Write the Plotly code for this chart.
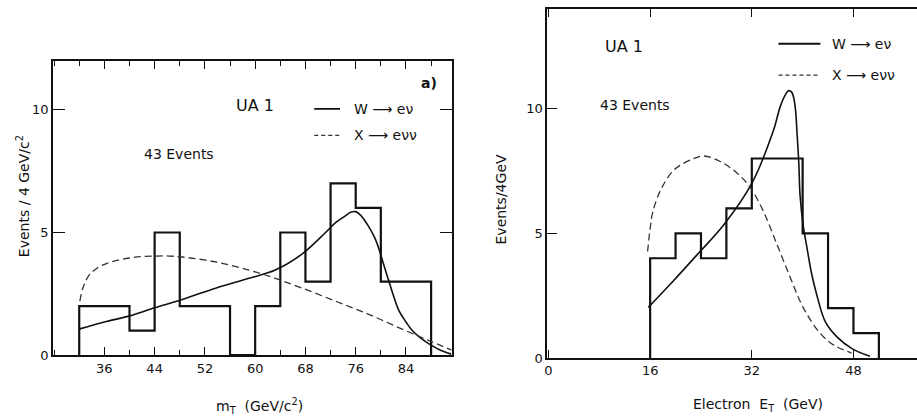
import plotly.graph_objects as go

# ---- Left panel: transverse mass ----
mt_edges = [32, 40, 44, 48, 56, 60, 64, 68, 72, 76, 80, 88]
mt_counts = [2, 1, 5, 2, 0, 2, 5, 3, 7, 6, 3]

mt_w_x = [32.1, 36, 40, 44, 48.4, 53.7, 59, 63.2, 67.5, 71.2, 72.8, 74.2, 75.2, 76.0, 76.8, 78, 79.0, 79.7, 80.5, 81.3, 82.1, 82.9, 84.0, 85, 86.3, 87.6, 89.5, 91.2]
mt_w_y = [1.07, 1.35, 1.6, 1.93, 2.27, 2.73, 3.13, 3.47, 4.13, 5.0, 5.4, 5.65, 5.83, 5.85, 5.7, 5.27, 4.8, 4.33, 3.65, 3.0, 2.35, 1.8, 1.35, 1.0, 0.7, 0.47, 0.2, 0.04]
mt_x_x = [32.1, 32.6, 33.6, 34.6, 35.7, 37.8, 40, 42, 44.2, 46.3, 48.4, 53.7, 59, 63.2, 67.5, 72.8, 78, 83.3, 87.6, 91.3]
mt_x_y = [2.2, 2.75, 3.27, 3.5, 3.67, 3.85, 3.96, 4.02, 4.04, 4.04, 4.0, 3.8, 3.47, 3.13, 2.73, 2.2, 1.67, 1.07, 0.6, 0.2]

# ---- Right panel: electron ET ----
et_edges = [16, 20, 24, 28, 32, 36, 40, 44, 48, 52]
et_counts = [4, 5, 4, 6, 8, 8, 5, 2, 1]

et_w_x = [15.7, 19.6, 23.6, 27.5, 32, 35.4, 36.5, 37.3, 37.8, 38.3, 38.6, 38.9, 39.1, 39.4, 39.6, 40.1, 40.7, 41.4, 42.2, 43.6, 45.4, 47.7, 50.6]
et_w_y = [2.03, 3.08, 4.2, 5.31, 7.0, 9.12, 10.1, 10.56, 10.72, 10.65, 10.43, 9.9, 9.1, 7.8, 6.5, 5.3, 4.4, 3.4, 2.56, 1.44, 0.85, 0.39, 0.07]
et_x_x = [15.6, 16.0, 16.4, 17.7, 19.8, 22.9, 24.5, 27.1, 29.7, 31.8, 33.9, 36.0, 38.1, 40.2, 42.8, 44.9, 47.7]
et_x_y = [4.27, 5.2, 5.84, 6.76, 7.55, 8.0, 8.1, 7.87, 7.41, 6.82, 5.84, 4.53, 3.2, 1.97, 0.98, 0.52, 0.2]

left_xticks = [36, 44, 52, 60, 68, 76, 84]
right_xticks = [0, 16, 32, 48]
yticks = [0, 5, 10]


def hist_xy(edges, counts):
    xs = [edges[0]] + list(edges)
    ys = [0] + list(counts) + [0]
    return xs, ys


fig = go.Figure()
INK = "#111111"
FONT = "DejaVu Sans"

hx, hy = hist_xy(mt_edges, mt_counts)
fig.add_trace(go.Scatter(x=hx, y=hy, mode="lines", line=dict(color=INK, width=2.2, shape="hv"),
                         xaxis="x", yaxis="y", showlegend=False))
fig.add_trace(go.Scatter(x=mt_w_x, y=mt_w_y, mode="lines", line=dict(color=INK, width=1.6, shape="spline"),
                         xaxis="x", yaxis="y", showlegend=False))
fig.add_trace(go.Scatter(x=mt_x_x, y=mt_x_y, mode="lines", line=dict(color="#333333", width=1.3, dash="7px,4px", shape="spline"),
                         xaxis="x", yaxis="y", showlegend=False))

hx2, hy2 = hist_xy(et_edges, et_counts)
fig.add_trace(go.Scatter(x=hx2, y=hy2, mode="lines", line=dict(color=INK, width=2.2, shape="hv"),
                         xaxis="x2", yaxis="y2", showlegend=False))
fig.add_trace(go.Scatter(x=et_w_x, y=et_w_y, mode="lines", line=dict(color=INK, width=1.6, shape="spline"),
                         xaxis="x2", yaxis="y2", showlegend=False))
fig.add_trace(go.Scatter(x=et_x_x, y=et_x_y, mode="lines", line=dict(color="#333333", width=1.3, dash="7px,4px", shape="spline"),
                         xaxis="x2", yaxis="y2", showlegend=False))

axis_common = dict(showline=True, linecolor=INK, linewidth=1.6, showgrid=False, zeroline=False,
                   ticks="inside", tickcolor=INK, tickwidth=1.4,
                   tickfont=dict(family=FONT, size=13, color=INK))

fig.update_layout(
    width=917, height=420,
    margin=dict(l=0, r=0, t=0, b=0),
    paper_bgcolor="white", plot_bgcolor="white",
    xaxis=dict(domain=[50/917, 450/917], range=[27.8, 91.25], tickvals=left_xticks, ticklen=8,
               mirror="ticks", anchor="y",
               minor=dict(dtick=4, tick0=0, ticklen=5, ticks="inside", tickcolor=INK), **axis_common),
    yaxis=dict(domain=[58/420, 358/420], range=[0, 12], tickvals=yticks, ticklen=12, mirror="ticks",
               anchor="x", **axis_common),
    xaxis2=dict(domain=[546/917, 1.0], range=[-0.2, 58.0], tickvals=right_xticks, ticklen=8,
                mirror="ticks", anchor="y2", **axis_common),
    yaxis2=dict(domain=[55/420, 411/420], range=[0, 14], tickvals=yticks, ticklen=10, mirror=False,
                anchor="x2", **axis_common),
)

# legend / labels
fig.add_shape(type="line", xref="x", yref="y", x0=69.4, x1=73.5, y0=10.04, y1=10.04, line=dict(color=INK, width=1.8))
fig.add_shape(type="line", xref="x", yref="y", x0=69.4, x1=73.5, y0=8.96, y1=8.96, line=dict(color="#333333", width=1.3, dash="4px,3px"))
fig.add_shape(type="line", xref="x2", yref="y2", x0=36.2, x1=42.8, y0=12.6, y1=12.6, line=dict(color=INK, width=1.8))
fig.add_shape(type="line", xref="x2", yref="y2", x0=36.2, x1=42.8, y0=11.34, y1=11.34, line=dict(color="#333333", width=1.3, dash="4px,3px"))

ann = []
def txt(x, y, s, xref, yref, size=14, xanchor="center", angle=0):
    ann.append(dict(x=x, y=y, xref=xref, yref=yref, text=s, showarrow=False, xanchor=xanchor,
                    yanchor="middle", textangle=angle, font=dict(family=FONT, size=size, color=INK)))

txt(75.4, 10.04, "W ⟶ eν", "x", "y", 14, "left")
txt(75.4, 8.96, "X ⟶ eνν", "x", "y", 14, "left")
txt(60.0, 10.16, "UA 1", "x", "y", 16)
txt(47.9, 8.2, "43 Events", "x", "y", 14)
txt(87.6, 11.1, "<b>a)</b>", "x", "y", 14)

txt(44.3, 12.6, "W ⟶ eν", "x2", "y2", 14, "left")
txt(44.3, 11.34, "X ⟶ eνν", "x2", "y2", 14, "left")
txt(11.9, 12.5, "UA 1", "x2", "y2", 16)
txt(13.6, 10.16, "43 Events", "x2", "y2", 14)

txt(20/917, 1 - 200/420, "Events / 4 GeV/c<sup>2</sup>", "paper", "paper", 14, "center", -90)
txt(500/917, 1 - 203/420, "Events/4GeV", "paper", "paper", 14, "center", -90)
txt(257/917, 1 - 414/420, "m<sub>T</sub>  (GeV/c<sup>2</sup>)", "paper", "paper", 14)
txt(757/917, 1 - 413/420, "Electron  E<sub>T</sub>  (GeV)", "paper", "paper", 14)

fig.update_layout(annotations=ann)
fig.write_html("out.html")
